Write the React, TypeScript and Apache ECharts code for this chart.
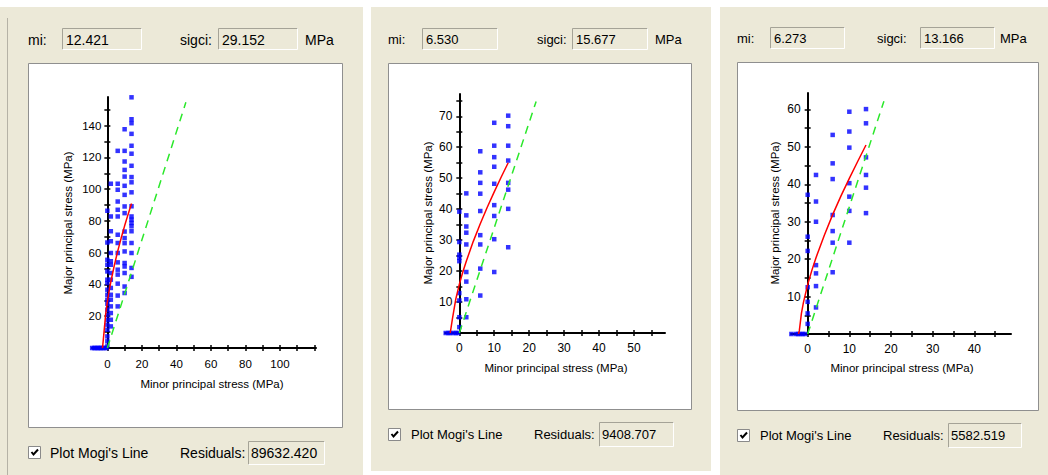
import React, { useEffect, useRef } from 'react';
import * as echarts from 'echarts';

// ---------------- data ----------------
const confiningStress = [0, 2, 6, 10, 14];

const miValues = ['12.421', '6.530', '6.273'];
const sigciValues = ['29.152', '15.677', '13.166'];
const residualValues = ['89632.420', '9408.707', '5582.519'];

const xAxisTitle = 'Minor principal stress (MPa)';
const yAxisTitle = 'Major principal stress (MPa)';
const checkLabel = "Plot Mogi's Line";

const xMins = [-8.9, -4.1, -4.0];
const xMaxs = [120.9, 58.9, 48.8];
const yMaxs = [158, 77.2, 64.4];

const xTicks1 = [0, 10, 20, 30, 40, 50, 60, 70, 80, 90, 100, 110, 120];
const xLabels1 = [0, 20, 40, 60, 80, 100];
const yTicks1 = [10, 20, 30, 40, 50, 60, 70, 80, 90, 100, 110, 120, 130, 140, 150];
const yLabels1 = [20, 40, 60, 80, 100, 120, 140];

const xTicks2 = [0, 5, 10, 15, 20, 25, 30, 35, 40, 45, 50, 55];
const xLabels2 = [0, 10, 20, 30, 40, 50];
const yTicks2 = [5, 10, 15, 20, 25, 30, 35, 40, 45, 50, 55, 60, 65, 70, 75];
const yLabels2 = [10, 20, 30, 40, 50, 60, 70];

const xTicks3 = [0, 5, 10, 15, 20, 25, 30, 35, 40, 45];
const xLabels3 = [0, 10, 20, 30, 40];
const yTicks3 = [5, 10, 15, 20, 25, 30, 35, 40, 45, 50, 55, 60];
const yLabels3 = [10, 20, 30, 40, 50, 60];

// tensile tests: minor stress values with major stress = 0
const p1Tensile = [-8.8, -7.6, -6.9, -5.8, -5.1, -4.2, -3.5, -2.4, -1.7, -0.6];
const p2Tensile = [-3.9, -3.1, -2.6, -1.7, -1.0, -0.4];
const p3Tensile = [-3.9, -2.8, -2.3, -1.7, -1.2, -0.6];

// major principal stress per confining stress column
const p1Major = [
  [86.4, 66.4, 55.5, 52.4, 48.2, 43.0, 40.9, 36.7, 33.5, 30.4, 27.9, 24.1, 20.9, 17.8, 14.7, 11.5, 7.3, 4.2, 1.0],
  [103.4, 82.8, 73.5, 67.2, 59.8, 54.6, 52.4, 47.2, 43.0, 37.8, 33.5, 30.4, 26.2, 22.0, 17.8, 13.6],
  [124.1, 103.4, 99.6, 92.2, 87.0, 82.8, 71.3, 66.1, 59.8, 53.9, 49.3, 46.2, 40.5, 33.0, 26.2],
  [137.7, 124.1, 117.4, 112.1, 107.9, 102.1, 96.4, 89.1, 84.9, 73.3, 69.2, 66.0, 60.8, 53.5, 51.3, 47.2, 38.7, 34.6],
  [157.8, 144.0, 141.5, 134.8, 127.3, 122.3, 114.7, 107.6, 104.3, 98.0, 89.2, 82.8, 80.8, 78.7, 76.6, 73.5, 66.1, 59.8, 50.4, 44.8],
];
const p2Major = [
  [39.2, 29.4, 25.3, 24.3, 23.2, 12.9, 10.5, 5.1, 1.9],
  [45.1, 38.0, 34.4, 32.4, 28.6, 19.7, 16.6, 10.9, 5.1],
  [58.7, 51.9, 48.5, 45.0, 39.4, 31.6, 28.6, 20.8, 12.1],
  [67.9, 60.5, 56.8, 53.7, 48.2, 41.3, 37.8, 30.3, 19.7],
  [77.4, 70.2, 66.8, 60.5, 55.7, 48.5, 46.3, 40.1, 27.7],
];
const p3Major = [
  [37.2, 26.0, 22.2, 12.5, 8.6, 5.5, 2.7],
  [42.5, 35.4, 30.0, 18.4, 16.2, 12.8, 7.1],
  [53.2, 45.6, 41.4, 31.8, 27.5, 24.4, 16.5],
  [59.4, 54.1, 49.8, 40.3, 36.7, 32.9, 24.4],
  [64.5, 60.1, 56.3, 47.2, 42.5, 39.1, 32.3],
];

// Hoek-Brown fitted envelope (red)
const p1CurveMinor = [-2.8, -2.0, -1.0, 0, 1, 2, 4, 6, 8, 10, 12, 14];
const p1CurveMajor = [0, 9.2, 21.1, 29.2, 35.8, 41.7, 51.9, 61.0, 69.2, 76.9, 84.1, 90.9];
const p2CurveMinor = [-2.6, -2.0, -1.0, 0, 1, 2, 4, 6, 8, 10, 12, 14];
const p2CurveMajor = [0, 4.4, 11.0, 15.7, 19.7, 23.2, 29.6, 35.3, 40.6, 45.6, 50.4, 55.0];
const p3CurveMinor = [-2.2, -2.0, -1.5, -1.0, 0, 1, 2, 4, 6, 8, 10, 12, 14];
const p3CurveMajor = [0, 0.9, 5.5, 8.5, 13.2, 17.0, 20.4, 26.4, 31.9, 36.9, 41.6, 46.1, 50.5];

// Mogi's line (green dashed)
const p1MogiMinor = [0, 45.5];
const p1MogiMajor = [0, 154.7];
const p2MogiMinor = [0, 22.0];
const p2MogiMajor = [0, 74.8];
const p3MogiMinor = [0, 18.3];
const p3MogiMajor = [0, 62.2];

// ---------------- layout / style ----------------
const FONT = '"Liberation Sans", Arial, sans-serif';
const BG = '#ece9d8';

const gridPos = [
  { left: 92, top: 97, width: 224, height: 251 },
  { left: 445, top: 94, width: 220, height: 239 },
  { left: 791, top: 93, width: 220, height: 241 },
];

const layout = [
  {
    bg: [0, 7, 363, 468], box: [28, 63, 315, 365], fs: 14, topY: 39.5,
    miLabel: 28, miBox: [62, 28, 80, 22], sigLabel: 180, sigBox: [218, 28, 80, 22], mpa: 305,
    cb: [28, 446], cbText: 50, rowY: 453, resLabel: 180, resBox: [248, 441, 77, 24],
    yTitle: [68, 223], xTitle: [212, 384], xMargin: 10, yMargin: 6, tickFs: 11.5,
  },
  {
    bg: [371, 7, 340, 464], box: [388, 63, 304, 347], fs: 13, topY: 39.5,
    miLabel: 388, miBox: [422, 28, 76, 22], sigLabel: 537, sigBox: [572, 28, 76, 22], mpa: 655,
    cb: [388, 428], cbText: 411, rowY: 434, resLabel: 534, resBox: [599, 422, 75, 25],
    yTitle: [428, 213], xTitle: [556, 368], xMargin: 9, yMargin: 7, tickFs: 12,
  },
  {
    bg: [720, 7, 328, 468], box: [737, 62, 302, 349], fs: 13, topY: 38.5,
    miLabel: 737, miBox: [770, 27, 75, 22], sigLabel: 877, sigBox: [920, 27, 75, 22], mpa: 1000,
    cb: [737, 429], cbText: 760, rowY: 435, resLabel: 883, resBox: [948, 423, 74, 25],
    yTitle: [775, 213], xTitle: [902, 368], xMargin: 9, yMargin: 7, tickFs: 12,
  },
];

function text(x: number, y: number, s: string, fs: number, align = 'left', extra: any = {}) {
  return {
    type: 'text', x, y, z: 5, silent: true, ...extra,
    style: { text: s, fill: '#000', fontSize: fs, fontFamily: FONT, align, verticalAlign: 'middle' },
  };
}

function sunken(b: number[]) {
  const [x, y, w, h] = b;
  return [
    { type: 'polyline', z: 1, silent: true, shape: { points: [[x + 0.5, y + h - 0.5], [x + 0.5, y + 0.5], [x + w - 0.5, y + 0.5]] }, style: { stroke: '#a5a397', lineWidth: 1, fill: null } },
    { type: 'polyline', z: 1, silent: true, shape: { points: [[x + 0.5, y + h - 0.5], [x + w - 0.5, y + h - 0.5], [x + w - 0.5, y + 0.5]] }, style: { stroke: '#ffffff', lineWidth: 1, fill: null } },
  ];
}

function buildOption() {
  const panels = [
    { tensile: p1Tensile, major: p1Major, cx: p1CurveMinor, cy: p1CurveMajor, mx: p1MogiMinor, my: p1MogiMajor, xt: xTicks1, xl: xLabels1, yt: yTicks1, yl: yLabels1 },
    { tensile: p2Tensile, major: p2Major, cx: p2CurveMinor, cy: p2CurveMajor, mx: p2MogiMinor, my: p2MogiMajor, xt: xTicks2, xl: xLabels2, yt: yTicks2, yl: yLabels2 },
    { tensile: p3Tensile, major: p3Major, cx: p3CurveMinor, cy: p3CurveMajor, mx: p3MogiMinor, my: p3MogiMajor, xt: xTicks3, xl: xLabels3, yt: yTicks3, yl: yLabels3 },
  ];
  const grid: any[] = [];
  const xAxis: any[] = [];
  const yAxis: any[] = [];
  const series: any[] = [];
  const elements: any[] = [];

  // window edge line at far left
  elements.push({ type: 'line', z: -5, silent: true, shape: { x1: 7.5, y1: 18, x2: 7.5, y2: 475 }, style: { stroke: '#b5b2a6', lineWidth: 1 } });

  panels.forEach((p, i) => {
    const L: any = layout[i];
    grid.push({ ...gridPos[i], show: false });
    // y axis sits at minor stress = 0: shift it right from the grid's left edge
    const zeroOffset = -((0 - xMins[i]) / (xMaxs[i] - xMins[i])) * gridPos[i].width;
    const axisCommon = { type: 'value', gridIndex: i, splitLine: { show: false } };
    const xBase = { ...axisCommon, min: xMins[i], max: xMaxs[i], position: 'bottom' };
    const yBase = { ...axisCommon, min: 0, max: yMaxs[i], position: 'left', offset: zeroOffset };
    const tickStyle = { color: '#000', width: 1.5 };
    xAxis.push({
      ...xBase,
      axisLine: { show: true, onZero: false, lineStyle: { color: '#000', width: 2 } },
      axisTick: { show: true, inside: false, length: 3, customValues: p.xt, lineStyle: tickStyle },
      axisLabel: { show: true, customValues: p.xl, margin: L.xMargin, color: '#000', fontSize: L.tickFs, fontFamily: FONT },
    });
    xAxis.push({
      ...xBase,
      axisLine: { show: false, onZero: false },
      axisTick: { show: true, inside: true, length: 3, customValues: p.xt, lineStyle: tickStyle },
      axisLabel: { show: false },
    });
    yAxis.push({
      ...yBase,
      axisLine: { show: true, onZero: false, lineStyle: { color: '#000', width: 2 } },
      axisTick: { show: true, inside: false, length: 3, customValues: p.yt, lineStyle: tickStyle },
      axisLabel: { show: true, customValues: p.yl, margin: L.yMargin, color: '#000', fontSize: L.tickFs, fontFamily: FONT },
    });
    yAxis.push({
      ...yBase,
      axisLine: { show: false, onZero: false },
      axisTick: { show: true, inside: true, length: 3, customValues: p.yt, lineStyle: tickStyle },
      axisLabel: { show: false },
    });

    const pts: number[][] = [];
    p.tensile.forEach((v) => pts.push([v, 0]));
    p.major.forEach((col, c) => col.forEach((v) => pts.push([confiningStress[c], v])));

    series.push({
      type: 'scatter', xAxisIndex: 2 * i, yAxisIndex: 2 * i, symbol: 'rect', symbolSize: 4.5,
      itemStyle: { color: '#0000ff' }, data: pts, z: 3, silent: true,
    });
    series.push({
      type: 'line', xAxisIndex: 2 * i, yAxisIndex: 2 * i, symbol: 'none', showSymbol: false,
      lineStyle: { color: '#ff0000', width: 1.5 }, data: p.cx.map((v, k) => [v, p.cy[k]]), z: 4, silent: true,
    });
    series.push({
      type: 'line', xAxisIndex: 2 * i, yAxisIndex: 2 * i, symbol: 'none', showSymbol: false,
      lineStyle: { color: '#2be82b', width: 1.5, type: [8, 6] }, data: p.mx.map((v, k) => [v, p.my[k]]), z: 4, silent: true,
    });

    // panel background and white plot box
    const [bx, by, bw, bh] = L.bg;
    elements.push({ type: 'rect', z: -10, silent: true, shape: { x: bx, y: by, width: bw, height: bh }, style: { fill: BG } });
    const [px, py, pw, ph] = L.box;
    elements.push({ type: 'rect', z: -9, silent: true, shape: { x: px + 0.5, y: py + 0.5, width: pw - 1, height: ph - 1 }, style: { fill: '#ffffff', stroke: '#8f8f8f', lineWidth: 1 } });

    // top row
    elements.push(text(L.miLabel, L.topY, 'mi:', L.fs));
    elements.push(...sunken(L.miBox));
    elements.push(text(L.miBox[0] + 4, L.topY, miValues[i], L.fs));
    elements.push(text(L.sigLabel, L.topY, 'sigci:', L.fs));
    elements.push(...sunken(L.sigBox));
    elements.push(text(L.sigBox[0] + 4, L.topY, sigciValues[i], L.fs));
    elements.push(text(L.mpa, L.topY, 'MPa', L.fs));

    // bottom row
    const [cbx, cby] = L.cb;
    elements.push({ type: 'rect', z: 1, silent: true, shape: { x: cbx + 0.5, y: cby + 0.5, width: 12, height: 12 }, style: { fill: '#ffffff', stroke: '#8a8a8a', lineWidth: 1 } });
    elements.push({ type: 'polyline', z: 2, silent: true, shape: { points: [[cbx + 3.5, cby + 6], [cbx + 5.5, cby + 8.5], [cbx + 10, cby + 3.5]] }, style: { stroke: '#000', lineWidth: 2, fill: null } });
    elements.push(text(L.cbText, L.rowY, checkLabel, L.fs));
    elements.push(text(L.resLabel, L.rowY, 'Residuals:', L.fs));
    elements.push(...sunken(L.resBox));
    elements.push(text(L.resBox[0] + 3, L.rowY, residualValues[i], L.fs));

    // axis titles
    elements.push(text(L.xTitle[0], L.xTitle[1], xAxisTitle, 11.5, 'center'));
    elements.push(text(L.yTitle[0], L.yTitle[1], yAxisTitle, 11.5, 'center', { rotation: Math.PI / 2 }));
  });

  return {
    animation: false,
    backgroundColor: '#ffffff',
    grid,
    xAxis,
    yAxis,
    series,
    graphic: { elements },
  };
}

export default function App() {
  const ref = useRef<HTMLDivElement>(null);
  useEffect(() => {
    if (!ref.current) return;
    const chart = echarts.init(ref.current, null, { renderer: 'svg' });
    chart.setOption(buildOption() as any);
    return () => chart.dispose();
  }, []);
  return (
    <div
      ref={ref}
      style={{ position: 'absolute', left: 0, top: 0, width: 1048, height: 475, background: '#ffffff' }}
    />
  );
}
